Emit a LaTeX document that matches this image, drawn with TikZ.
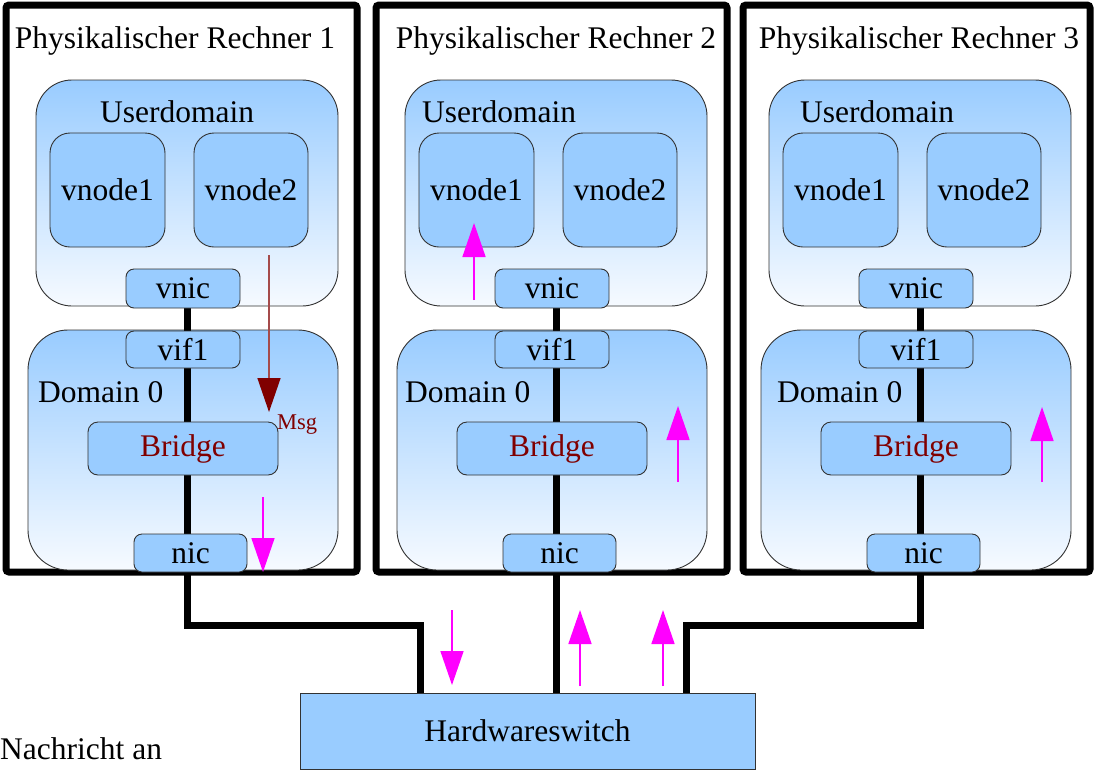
\documentclass[tikz,border=0pt]{standalone}
\usepackage{fontspec}
\setmainfont{Liberation Serif}
\usetikzlibrary{arrows.meta}

\definecolor{lblue}{RGB}{153,204,255}
\definecolor{paleblue}{RGB}{246,250,255}
\definecolor{bridgered}{RGB}{128,0,0}
\definecolor{msgline}{RGB}{165,75,75}
\definecolor{flowpink}{RGB}{255,0,255}
\definecolor{edge}{RGB}{50,50,50}

\pgfdeclarelayer{back}
\pgfdeclarelayer{mid}
\pgfsetlayers{back,mid,main}

\tikzset{
  pcbox/.style={draw=black, line width=7pt, rounded corners=3pt, fill=white},
  dombox/.style={draw=edge, line width=0.9pt, top color=lblue, bottom color=paleblue,
                 inner sep=0pt},
  part/.style={draw=edge, line width=0.9pt, fill=lblue, inner sep=0pt},
  wire/.style={draw=black, line width=7pt, line join=miter},
  flow/.style={draw=flowpink, line width=1.6pt, -{Triangle[length=34pt,width=23pt]}},
  msgflow/.style={draw=msgline, line width=1.4pt,
                  -{Triangle[length=34pt,width=23pt,color=bridgered,fill=bridgered]}},
}

\begin{document}
\begin{tikzpicture}[x=1pt, y=-1pt, font=\fontsize{31.5}{36}\selectfont]
\useasboundingbox (0,0) rectangle (1094,769);

% three physical machines
\foreach \i/\dx/\pl/\pr/\tx/\ux/\dlx in
   {1/0/6/357/175/100/38, 2/369/376/727/556/422/405, 3/733/743/1090/919/800/777}{
  \begin{pgfonlayer}{back}
    \draw[pcbox] (\pl,5) rectangle (\pr,572);
    \node[dombox, rounded corners=36pt, minimum width=302, minimum height=226]
      (ud-\i) at (187+\dx,193) {};
    \node[dombox, rounded corners=40pt, minimum width=310, minimum height=240]
      (d0-\i) at (183+\dx,450) {};
  \end{pgfonlayer}
  \node[anchor=base] (title-\i) at (\tx,48) {Physikalischer Rechner \i};
  \node[anchor=base west, inner sep=0pt] (udl-\i) at (\ux,122) {Userdomain};
  \node[anchor=base west, inner sep=0pt] (d0l-\i) at (\dlx,402) {Domain 0};
  \node[part, rounded corners=20pt, minimum width=115, minimum height=114]
    (vna-\i) at (107.5+\dx,190) {vnode1};
  \node[part, rounded corners=20pt, minimum width=114, minimum height=114]
    (vnb-\i) at (251+\dx,190) {vnode2};
  \node[part, rounded corners=8pt, minimum width=114, minimum height=39]
    (vnic-\i) at (183+\dx,288.5) {vnic};
  \node[part, rounded corners=8pt, minimum width=114, minimum height=37]
    (vif-\i) at (183+\dx,349.5) {vif1};
  \node[part, rounded corners=10pt, minimum width=190, minimum height=53,
        text=bridgered] (br-\i) at (183+\dx,448.5) {Bridge};
  \node[part, rounded corners=8pt, minimum width=113, minimum height=38]
    (nic-\i) at (190.5+\dx,553) {nic};
  \coordinate (w\i) at (187+\dx,625);
}

% switch
\node[part, minimum width=455, minimum height=76] (sw) at (527.5,731) {Hardwareswitch};
\node[anchor=base west, inner sep=0pt] (note) at (0,759) {Nachricht an};

% cabling
\coordinate (p1) at (420,693);
\coordinate (p3) at (686,693);
\begin{pgfonlayer}{mid}
  \draw[wire] (w1 |- vnic-1.center) -- (w1) -| (p1);
  \draw[wire] (w2 |- vnic-2.center) -- (w2 |- sw.north);
  \draw[wire] (w3 |- vnic-3.center) -- (w3) -| (p3);
\end{pgfonlayer}

% message path
\coordinate (m0) at (269,255);
\coordinate (m1) at (269,412);
\draw[msgflow] (m0) -- (m1);
\node[anchor=base west, inner sep=0pt, text=bridgered, font=\fontsize{22.5}{26}\selectfont]
  (msg) at (277,429) {Msg};

\coordinate (a0) at (263,497);  \coordinate (a1) at (263,572);
\coordinate (b0) at (452,610);  \coordinate (b1) at (452,685);
\coordinate (c0) at (580,686);  \coordinate (c1) at (580,610);
\coordinate (e0) at (663,686);  \coordinate (e1) at (663,610);
\coordinate (f0) at (678,482);  \coordinate (f1) at (678,406);
\coordinate (g0) at (474,300);  \coordinate (g1) at (474,223);
\coordinate (h0) at (1042,482); \coordinate (h1) at (1042,407);
\foreach \s/\t in {a0/a1, b0/b1, c0/c1, e0/e1, f0/f1, g0/g1, h0/h1}
  \draw[flow] (\s) -- (\t);
\end{tikzpicture}
\end{document}
